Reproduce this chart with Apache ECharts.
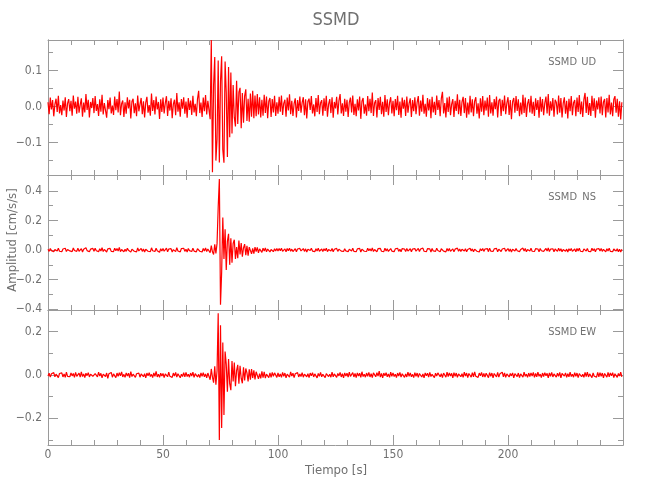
<!DOCTYPE html>
<html><head><meta charset="utf-8">
<script src="https://cdn.jsdelivr.net/npm/echarts@6/dist/echarts.min.js"></script>
<style>html,body{margin:0;padding:0;background:#fff}#c{width:650px;height:500px}</style>
</head><body><div id="c"></div>
<script>
// sampling step of the traces (s)
const dt = 0.5;
const stationName = 'SSMD';
const componentNames = ['UD', 'NS', 'EW'];
const xTitle = 'Tiempo [s]';
const yTitle = 'Amplitud [cm/s/s]';
const xMin = 0, xMax = 250, xStep = 50;

const udValues = [
.012,-.021,.025,-.008,.018,-.027,.006,.022,-.015,.030,-.019,.004,-.024,.017,-.011,.026,-.029,.009,.021,-.013,
.016,-.025,.031,-.006,.014,-.020,.027,-.017,.005,.023,-.028,.011,-.016,.035,-.009,.019,-.030,.013,-.004,.024,
-.018,.029,-.012,.007,-.026,.020,-.014,.033,-.022,.010,.015,-.031,.018,-.007,.025,-.019,.003,-.023,.028,-.010,
.021,-.016,.042,-.024,.008,.017,-.029,.012,-.020,.026,-.005,.019,-.033,.014,.022,-.018,.009,-.027,.031,-.013,
.006,.024,-.021,.015,-.030,.011,.027,-.017,.004,-.025,.036,-.012,.018,-.022,.028,-.008,.013,-.034,.020,-.015,
.025,-.019,.010,.029,-.026,.016,-.011,.023,-.032,.007,.019,-.024,.038,-.014,.012,-.028,.021,-.006,.026,-.020,
.014,-.031,.024,-.009,.017,-.023,.030,-.016,.008,-.027,.021,.044,-.018,.011,-.029,.025,-.013,.032,-.022,.016,
.020,-.035,.185,-.182,.060,.138,-.150,-.090,.128,-.155,.070,.140,-.120,-.156,.125,.040,-.140,.110,-.085,.095,
-.075,.060,-.030,-.055,.072,-.048,.040,.052,-.060,.038,-.045,.030,.048,-.040,.022,-.042,.036,-.028,.044,-.032,
.031,-.027,.035,-.022,.026,-.030,.019,-.025,.033,-.018,.028,-.032,.015,.024,-.029,.021,-.016,.030,-.026,.012,
-.020,.027,-.014,.031,-.023,.009,.019,-.028,.025,-.011,.034,-.021,.016,-.026,.008,.023,-.030,.018,-.012,.028,
-.017,.011,.026,-.024,.020,-.033,.014,.022,-.009,.029,-.019,.006,-.027,.024,-.015,.032,-.021,.010,.018,-.025,
.023,-.012,.030,-.028,.007,.021,-.018,.026,-.031,.013,-.005,.027,-.022,.017,.035,-.019,.009,-.026,.022,-.014,
.019,-.029,.012,.025,-.016,.031,-.023,.008,-.027,.020,-.011,.028,-.034,.015,.024,-.020,.006,-.025,.029,-.013,
.022,-.018,.039,-.026,.010,.018,-.030,.024,-.009,.027,-.021,.013,-.028,.032,-.015,.020,-.024,.011,.026,-.019,
.016,-.027,.021,-.010,.030,-.023,.014,-.031,.025,-.006,.019,-.026,.028,-.017,.009,.023,-.029,.018,-.013,.026,
-.021,.012,.029,-.025,.017,-.014,.033,-.020,.008,-.028,.024,-.011,.020,-.032,.027,-.016,.013,-.023,.031,-.009,
.018,-.027,.022,.041,-.019,.010,-.030,.025,-.015,.028,-.024,.007,.021,-.029,.016,-.012,.034,-.021,.019,-.026,
.013,.027,-.018,.024,-.031,.011,-.022,.030,-.016,.020,-.027,.015,.026,-.020,.009,-.033,.023,-.014,.029,-.024,
.017,-.011,.025,-.028,.032,-.019,.012,-.025,.021,-.007,.028,-.030,.016,.022,-.026,.019,-.013,.031,-.021,.010,
.026,-.023,.018,-.035,.014,.024,-.017,.029,-.012,.020,-.027,.011,-.022,.033,-.018,.025,-.029,.008,.021,-.016,
.030,-.020,.013,-.026,.023,-.009,.018,-.031,.027,-.014,.021,-.024,.010,.028,-.019,.035,-.025,.015,-.011,.024,
-.028,.019,.012,-.022,.031,-.017,.024,-.030,.009,.026,-.020,.016,-.033,.022,-.013,.029,-.024,.011,.018,-.027,
.025,-.015,.032,-.021,.014,-.029,.020,.038,-.018,.027,-.023,.010,-.026,.030,-.012,.023,-.031,.017,-.008,.026,
-.019,.028,-.024,.013,.021,-.030,.024,-.016,.033,-.022,.011,-.027,.020,.029,-.017,.022,-.028,.015,-.036,.012
];

const nsValues = [
.006,-.009,.011,-.004,.008,-.012,.003,.010,-.007,.013,-.008,.002,-.011,.007,-.005,.012,-.010,.004,.009,-.006,
.007,-.011,.014,-.003,.006,-.009,.012,-.008,.002,.010,-.013,.005,-.007,.015,-.004,.009,-.012,.006,-.002,.011,
-.008,.012,-.005,.003,-.011,.009,-.006,.016,-.010,.004,.007,-.013,.008,-.003,.011,-.009,.001,-.010,.013,-.005,
.010,-.007,.018,-.011,.004,.008,-.012,.005,-.009,.012,-.002,.009,-.014,.006,.010,-.008,.004,-.012,.014,-.006,
.003,.011,-.009,.007,-.013,.005,.012,-.008,.002,-.011,.015,-.005,.008,-.010,.012,-.004,.006,-.015,.009,-.007,
.011,-.008,.004,.013,-.012,.007,-.005,.010,-.014,.003,.009,-.011,.016,-.006,.005,-.012,.010,-.003,.012,-.009,
.006,-.013,.011,-.004,.008,-.010,.013,-.007,.004,-.012,.009,.014,-.008,.005,-.013,.011,-.006,.014,-.010,.007,
.008,-.018,.030,-.012,-.030,.038,-.022,.045,.290,.480,-.370,-.150,.220,-.060,.140,-.135,.060,.110,-.100,.080,
-.085,.045,.070,-.060,.020,-.055,.065,-.030,.048,-.045,.015,.040,-.035,.028,-.038,.020,.030,-.026,.012,-.024,
.020,-.010,.018,-.019,.008,.015,-.016,.012,-.006,.014,-.012,.007,.011,-.013,.004,.010,-.011,.009,-.006,.010,
-.007,.010,-.004,.012,-.009,.003,.008,-.011,.010,-.005,.013,-.008,.006,-.010,.003,.009,-.012,.007,-.005,.011,
-.006,.004,.010,-.009,.008,-.013,.005,.009,-.003,.012,-.007,.002,-.011,.009,-.006,.013,-.008,.004,.007,-.010,
.009,-.005,.012,-.011,.003,.008,-.007,.010,-.012,.005,-.002,.011,-.009,.006,.014,-.007,.003,-.010,.009,-.006,
.007,-.011,.005,.010,-.006,.012,-.009,.003,-.011,.008,-.004,.011,-.013,.006,.009,-.008,.002,-.010,.012,-.005,
.009,-.007,.015,-.010,.004,.007,-.012,.009,-.003,.011,-.008,.005,-.011,.013,-.006,.008,-.009,.004,.010,-.007,
.006,-.011,.008,-.004,.012,-.009,.005,-.012,.010,-.002,.007,-.010,.011,-.007,.003,.009,-.012,.007,-.005,.010,
-.008,.005,.011,-.010,.007,-.005,.013,-.008,.003,-.011,.009,-.004,.008,-.013,.011,-.006,.005,-.009,.012,-.003,
.007,-.011,.009,.016,-.007,.004,-.012,.010,-.006,.011,-.009,.003,.008,-.011,.006,-.005,.013,-.008,.007,-.010,
.005,.011,-.007,.009,-.012,.004,-.009,.012,-.006,.008,-.011,.006,.010,-.008,.003,-.013,.009,-.005,.011,-.009,
.007,-.004,.010,-.011,.013,-.007,.005,-.010,.008,-.003,.011,-.012,.006,.009,-.010,.007,-.005,.012,-.008,.004,
.010,-.009,.007,-.014,.005,.009,-.007,.011,-.005,.008,-.011,.004,-.009,.013,-.007,.010,-.011,.003,.008,-.006,
.012,-.008,.005,-.010,.009,-.003,.007,-.012,.011,-.005,.008,-.009,.004,.011,-.007,.014,-.010,.006,-.004,.009,
-.011,.007,.005,-.009,.012,-.007,.009,-.012,.003,.010,-.008,.006,-.013,.009,-.005,.011,-.009,.004,.007,-.011,
.010,-.006,.013,-.008,.005,-.011,.008,.015,-.007,.011,-.009,.004,-.010,.012,-.005,.009,-.012,.007,-.003,.010,
-.007,.011,-.009,.005,.008,-.012,.009,-.006,.013,-.009,.004,-.011,.008,.012,-.007,.009,-.011,.006,-.014,.005
];

const ewValues = [
-.005,.008,-.010,.006,-.003,.011,-.008,.004,.009,-.012,.007,-.002,.010,-.009,.005,-.011,.013,-.006,.003,-.008,
.010,-.004,.007,-.011,.012,-.006,.002,.009,-.010,.014,-.007,.005,-.012,.008,-.003,.011,-.009,.004,.010,-.006,
-.011,.006,.003,-.009,.013,-.005,.008,-.013,.004,.010,-.007,.009,-.015,.006,-.002,.012,-.010,.005,.008,-.012,
.009,-.006,.011,-.004,.014,-.009,.003,-.011,.010,-.005,.008,-.012,.016,-.007,.004,.010,-.011,.006,-.003,.009,
-.010,.005,.012,-.008,.006,-.013,.009,-.004,.011,-.007,.003,-.012,.010,-.006,.017,-.009,.004,-.011,.008,-.005,
.007,-.012,.005,.010,-.008,.013,-.006,.003,-.011,.009,-.005,.012,-.010,.006,.008,-.013,.004,-.007,.011,-.009,
.012,-.007,.004,-.010,.009,-.005,.013,-.011,.006,.008,-.009,.003,-.012,.010,-.006,.011,-.008,.005,-.013,.009,
.006,-.022,.028,-.010,-.035,.040,-.045,.020,.285,-.300,.230,-.245,.150,-.185,.108,.050,-.077,.074,-.040,-.070,
.065,-.030,.058,-.052,.020,.047,-.040,.042,-.015,-.038,.036,-.025,.030,.010,-.030,.026,-.022,.027,-.014,.022,
-.020,.015,.021,-.018,.006,-.016,.017,-.012,.015,-.014,.004,.013,-.012,.010,-.011,.012,-.006,.010,.013,-.011,
.010,-.008,.005,-.011,.012,-.006,.009,-.013,.004,.007,-.010,.014,-.005,.008,-.012,.006,-.003,.011,-.009,.005,
-.007,.011,-.010,.004,.013,-.008,.006,-.012,.009,-.004,.011,-.009,.005,.010,-.013,.007,-.006,.012,-.008,.003,
.009,-.012,.006,.011,-.007,.004,-.010,.013,-.008,.005,.009,-.011,.007,-.004,.012,-.009,.006,-.013,.010,-.005,
.008,-.010,.013,-.006,.003,.011,-.009,.007,-.012,.010,-.005,.008,-.011,.015,-.007,.004,-.010,.009,-.006,.012,
-.009,.006,-.012,.010,.004,-.008,.011,-.005,.018,-.010,.007,-.013,.009,-.004,.011,-.008,.005,-.011,.013,-.006,
.010,-.007,.004,-.012,.009,-.005,.012,-.010,.006,.008,-.011,.005,-.009,.013,-.006,.010,-.008,.003,-.012,.011,
-.006,.009,-.011,.007,.012,-.009,.005,-.013,.010,-.004,.008,-.010,.012,-.007,.003,.011,-.012,.008,-.005,.010,
.011,-.008,.006,-.012,.009,.004,-.010,.013,-.007,.010,-.005,.008,-.013,.011,-.006,.009,-.011,.005,.012,-.008,
.006,-.011,.013,-.005,.009,-.012,.007,.004,-.010,.011,-.008,.014,-.006,.003,-.011,.009,-.004,.012,-.009,.007,
-.010,.008,.005,-.012,.011,-.006,.009,-.013,.007,.004,-.009,.012,-.010,.006,-.003,.013,-.008,.010,-.011,.005,
.012,-.009,.007,-.004,.010,-.013,.006,.011,-.007,.009,-.012,.005,.008,-.010,.013,-.006,.004,-.011,.009,-.007,
.010,-.005,.012,-.011,.007,-.008,.013,-.006,.004,-.012,.009,-.007,.011,-.004,.008,-.013,.010,-.006,.012,-.009,
.005,.011,-.010,.008,-.006,.012,-.013,.007,.009,-.005,.010,-.011,.006,-.008,.013,-.007,.004,-.010,.011,-.006,
.009,-.012,.006,.010,-.008,.004,-.011,.012,-.007,.013,-.009,.005,.008,-.012,.010,-.006,.003,-.010,.012,-.008,
.011,-.006,.009,-.013,.007,.005,-.010,.012,-.008,.010,-.004,.011,-.012,.006,.009,-.011,.007,-.005,.013,-.009
];

// axis ranges and tick labels per panel
const udRange = [-0.19, 0.185], udMajor = [-0.1, 0, 0.1], udMinor = [-0.15, -0.05, 0.05, 0.15];
const nsRange = [-0.405, 0.507], nsMajor = [-0.4, -0.2, 0, 0.2, 0.4], nsMinor = [-0.3, -0.1, 0.1, 0.3];
const ewRange = [-0.323, 0.30], ewMajor = [-0.2, 0, 0.2], ewMinor = [-0.3, -0.1, 0.1];

const FONT = "'Liberation Sans Narrow','DejaVu Sans Condensed','Liberation Sans',sans-serif";
const AX = '#9a9a9a', TXT = '#707070';

const panels = [
  {vals: udValues, range: udRange, major: udMajor, minor: udMinor},
  {vals: nsValues, range: nsRange, major: nsMajor, minor: nsMinor},
  {vals: ewValues, range: ewRange, major: ewMajor, minor: ewMinor}
];
const PT = 40, PH = 135, PL = 48, PR = 27;
const grids = [], xAxes = [], yAxes = [], series = [], graphics = [];
const fmt = v => (Math.abs(v) < 1e-9 ? '0.0' : v.toFixed(1).replace('-', '\u2212'));

panels.forEach((p, i) => {
  grids.push({left: PL, right: PR, top: PT + PH * i, height: PH, containLabel: false});
  const last = i === panels.length - 1;
  ['bottom', 'top'].forEach(pos => {
    xAxes.push({
      type: 'value', gridIndex: i, position: pos, offset: 0, min: xMin, max: xMax, interval: xStep,
      axisLine: {show: true, onZero: false, lineStyle: {color: AX, width: 1}},
      axisTick: {show: true, inside: true, length: 10, lineStyle: {color: AX}},
      minorTick: {show: true, splitNumber: 5, length: 5, lineStyle: {color: AX}},
      splitLine: {show: false}, minorSplitLine: {show: false},
      axisLabel: {show: last && pos === 'bottom', color: TXT, fontFamily: FONT, fontSize: 12, margin: 4, showMaxLabel: false}
    });
  });
  const yBase = {type: 'value', gridIndex: i, offset: 0, min: p.range[0], max: p.range[1], splitLine: {show: false}};
  ['left', 'right'].forEach(pos => {
    yAxes.push(Object.assign({}, yBase, {
      position: pos,
      axisLine: {show: true, onZero: false, lineStyle: {color: AX, width: 1}},
      axisTick: {show: true, inside: true, length: 10, customValues: p.major, lineStyle: {color: AX}},
      axisLabel: {show: pos === 'left', customValues: p.major, formatter: fmt, color: TXT, fontFamily: FONT, fontSize: 12, margin: 6}
    }));
    yAxes.push(Object.assign({}, yBase, {
      position: pos,
      axisLine: {show: true, onZero: false, lineStyle: {color: AX, width: 1}},
      axisTick: {show: true, inside: true, length: 5, customValues: p.minor, lineStyle: {color: AX}},
      axisLabel: {show: false}
    }));
  });
  series.push({
    type: 'line', xAxisIndex: i * 2, yAxisIndex: i * 4,
    data: p.vals.map((v, k) => [k * dt, v]),
    showSymbol: false, symbol: 'none', animation: false,
    lineStyle: {color: '#ff0000', width: 1.2}, clip: true
  });
  const ty = PT + PH * i + 22;
  graphics.push({type: 'text', x: 577, y: ty, style: {text: stationName, fill: TXT, font: '11px ' + FONT, align: 'right', verticalAlign: 'middle'}});
  graphics.push({type: 'text', x: 596, y: ty, style: {text: componentNames[i], fill: TXT, font: '11px ' + FONT, align: 'right', verticalAlign: 'middle'}});
});

graphics.push({type: 'text', x: 336, y: 20, style: {text: stationName, fill: TXT, font: '18px ' + FONT, align: 'center', verticalAlign: 'middle'}});
graphics.push({type: 'text', x: 336, y: 471, style: {text: xTitle, fill: TXT, font: '13px ' + FONT, align: 'center', verticalAlign: 'middle'}});
graphics.push({type: 'text', x: 13, y: 240, rotation: Math.PI / 2, style: {text: yTitle, fill: TXT, font: '13px ' + FONT, align: 'center', verticalAlign: 'middle'}});

const chart = echarts.init(document.getElementById('c'), null, {renderer: 'canvas'});
chart.setOption({
  animation: false,
  backgroundColor: '#ffffff',
  grid: grids, xAxis: xAxes, yAxis: yAxes, series: series,
  graphic: graphics
});
</script>
</body></html>
